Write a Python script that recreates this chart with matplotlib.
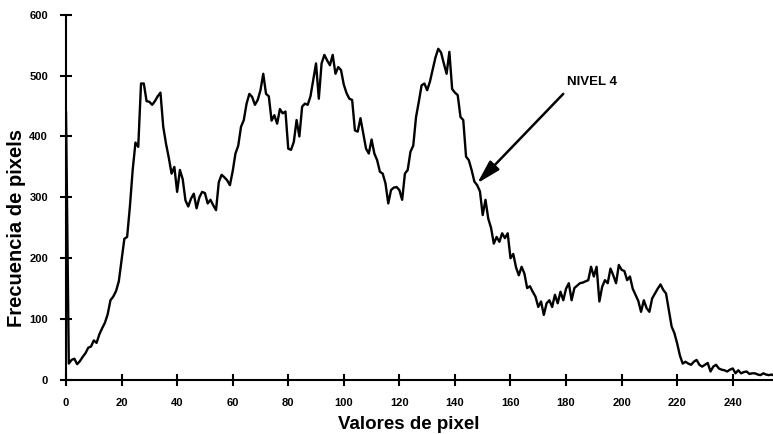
import matplotlib
matplotlib.use("Agg")
import matplotlib.pyplot as plt

plt.rcParams['font.family'] = ['Liberation Sans', 'DejaVu Sans']
plt.rcParams['font.weight'] = 'bold'

# Gray-level histogram: pixel count for each value 0..255
pixel_values = list(range(256))
frequencies = [
    440, 27, 33, 35, 26, 31, 38, 44, 53, 55,
    65, 61, 75, 85, 94, 108, 131, 137, 146, 162,
    197, 232, 235, 285, 345, 390, 383, 487, 487, 458,
    457, 452, 458, 466, 472, 416, 388, 365, 339, 350,
    309, 345, 330, 295, 285, 298, 306, 282, 300, 309,
    307, 290, 296, 287, 279, 325, 337, 333, 328, 320,
    343, 372, 385, 416, 427, 454, 470, 465, 452, 460,
    476, 503, 470, 466, 426, 435, 421, 445, 438, 441,
    380, 378, 391, 427, 400, 449, 454, 452, 466, 493,
    520, 462, 520, 534, 525, 517, 534, 503, 514, 509,
    485, 471, 462, 460, 410, 408, 430, 405, 380, 372,
    395, 372, 361, 342, 339, 323, 290, 312, 316, 317,
    312, 296, 339, 345, 375, 385, 432, 457, 484, 487,
    476, 490, 510, 530, 544, 538, 520, 503, 539, 478,
    472, 468, 432, 427, 367, 361, 345, 326, 320, 310,
    271, 296, 265, 250, 224, 235, 227, 241, 233, 241,
    200, 207, 185, 172, 186, 175, 151, 154, 145, 137,
    120, 129, 107, 126, 131, 120, 140, 126, 145, 131,
    150, 159, 131, 151, 155, 159, 160, 162, 164, 186,
    170, 186, 129, 153, 164, 159, 183, 172, 159, 189,
    181, 179, 164, 170, 150, 140, 130, 112, 131, 118,
    112, 134, 142, 150, 157, 148, 142, 115, 88, 77,
    60, 40, 27, 30, 27, 25, 30, 33, 25, 22,
    25, 28, 14, 22, 25, 19, 17, 16, 14, 17,
    19, 11, 16, 11, 13, 14, 10, 11, 11, 9,
    8, 11, 9, 8, 9, 7,
]

x_ticks = list(range(0, 241, 20))
y_ticks = list(range(0, 601, 100))

annotation_text = "NIVEL 4"
arrow_tip = (148, 323)
arrow_tail = (179, 470)
text_pos = (180.5, 489)

fig = plt.figure(figsize=(7.73, 4.34), dpi=100)
ax = fig.add_axes([0.0854, 0.1244, 0.9146, 0.8417])

ax.plot(pixel_values, frequencies, color='black', linewidth=1.7)

ax.set_xlim(0, 254.5)
ax.set_ylim(0, 600)
ax.set_xticks(x_ticks)
ax.set_yticks(y_ticks)

for side in ('top', 'right'):
    ax.spines[side].set_visible(False)
for side in ('left', 'bottom'):
    ax.spines[side].set_linewidth(1.5)

ax.tick_params(axis='both', direction='inout', length=9, width=1.5,
               labelsize=8, pad=8.5)
for lbl in ax.get_xticklabels() + ax.get_yticklabels():
    lbl.set_fontweight('bold')

ax.set_xlabel("Valores de pixel", fontsize=13.5, fontweight='bold')
ax.set_ylabel("Frecuencia de pixels", fontsize=14.5, fontweight='bold')
ax.xaxis.set_label_coords((409 - 66) / (773 - 66), -36 / 365)
ax.yaxis.set_label_coords(-40 / 707, (380 - 228) / 365)

# arrow pointing at the level on the descending slope
ax.annotate("", xy=arrow_tip, xytext=arrow_tail, textcoords='data',
            arrowprops=dict(arrowstyle='-|>,head_length=0.8,head_width=0.22',
                            color='black', lw=1.8, mutation_scale=18,
                            shrinkA=0, shrinkB=0))
ax.text(text_pos[0], text_pos[1], annotation_text, fontsize=9.5,
        fontweight='bold', va='center', ha='left')

fig.savefig("out.png", dpi=100, facecolor='white')
